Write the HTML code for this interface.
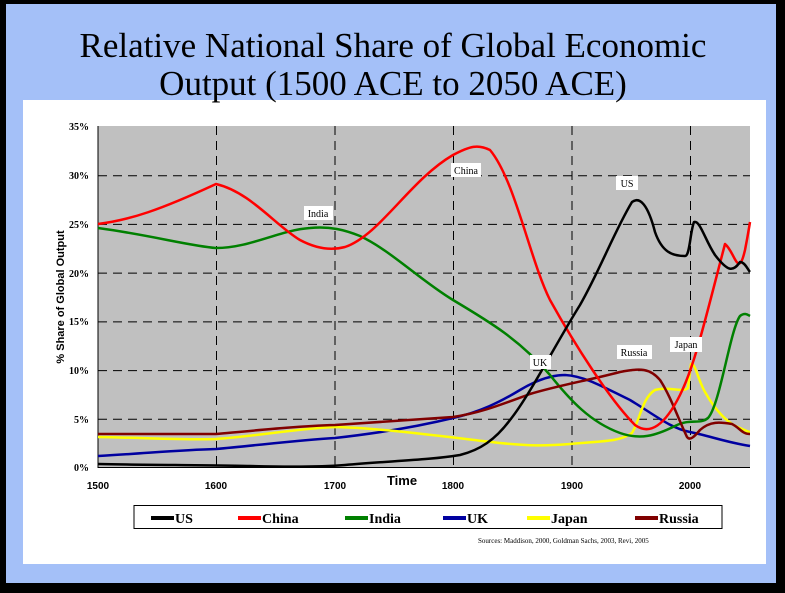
<!DOCTYPE html>
<html><head><style>
body{margin:0;width:785px;height:588px;overflow:hidden;background:#000;}
</style></head><body>
<svg width="785" height="588" xmlns="http://www.w3.org/2000/svg">
<rect width="785" height="588" fill="#000"/>
<rect x="6" y="4" width="770" height="579" fill="#a4c0f8"/>
<rect x="23" y="100" width="743" height="464" fill="#fff"/>
<text x="393" y="57" font-family="Liberation Serif" font-size="35" text-anchor="middle">Relative National Share of Global Economic</text>
<text x="393" y="95" font-family="Liberation Serif" font-size="35" text-anchor="middle">Output (1500 ACE to 2050 ACE)</text>
<rect x="98" y="126" width="652" height="341" fill="#c0c0c0"/>
<g stroke="#000" stroke-width="1" stroke-dasharray="9,6">
<line x1="98" y1="175.7" x2="750" y2="175.7"/><line x1="98" y1="224.4" x2="750" y2="224.4"/>
<line x1="98" y1="273.1" x2="750" y2="273.1"/><line x1="98" y1="321.9" x2="750" y2="321.9"/>
<line x1="98" y1="370.6" x2="750" y2="370.6"/><line x1="98" y1="419.3" x2="750" y2="419.3"/>
<line x1="216.5" y1="126" x2="216.5" y2="467"/><line x1="335" y1="126" x2="335" y2="467"/>
<line x1="453.5" y1="126" x2="453.5" y2="467"/><line x1="572" y1="126" x2="572" y2="467"/>
<line x1="690.5" y1="126" x2="690.5" y2="467"/>
</g>
<g stroke="#000" stroke-width="1"><line x1="98" y1="126" x2="98" y2="468"/><line x1="98" y1="467.5" x2="750" y2="467.5"/></g>
<g font-family="Liberation Serif" font-size="10" font-weight="bold" text-anchor="end">
<text x="89" y="130">35%</text><text x="89" y="179">30%</text><text x="89" y="228">25%</text><text x="89" y="277">20%</text><text x="89" y="325">15%</text><text x="89" y="374">10%</text><text x="89" y="423">5%</text><text x="89" y="471">0%</text>
</g>
<g font-family="Liberation Sans" font-size="10" font-weight="bold" text-anchor="middle">
<text x="98" y="489">1500</text><text x="216" y="489">1600</text><text x="335" y="489">1700</text><text x="453" y="489">1800</text><text x="572" y="489">1900</text><text x="690" y="489">2000</text>
</g>
<text x="402" y="485" font-family="Liberation Sans" font-size="13" font-weight="bold" text-anchor="middle">Time</text>
<text transform="translate(64,297) rotate(-90)" font-family="Liberation Sans" font-size="11" font-weight="bold" text-anchor="middle">% Share of Global Output</text>
<g fill="none" stroke-width="2.5" stroke-linejoin="round">
<path stroke="#0000a0" d="M98,456 C150,453 180,450 216,449 C260,445 300,440 335,438 C380,433 420,426 453,418 C480,412 500,402 520,390 C540,378 555,375 565,375 C585,376 605,388 630,400 C655,415 670,428 690,432 C710,436 725,442 750,446"/>
<path stroke="#ffff00" d="M98,437 C150,438 190,440 216,439 C260,436 300,428 335,427 C380,428 440,436 500,443 C530,446 545,446 570,444 C600,441 620,442 632,433 C640,420 642,398 655,390 C668,386 683,393 688,388 L691,364 C695,362 698,380 705,392 C715,410 728,424 740,428 C745,430 748,432 750,432"/>
<path stroke="#008000" d="M98,228 C150,235 190,246 216,248 C250,248 280,230 310,228 C330,226 345,230 360,236 C390,250 420,280 453,300 C490,322 520,340 550,375 C570,400 590,422 620,433 C640,440 655,436 675,426 C690,418 700,425 708,418 C720,405 730,330 740,316 C745,312 748,315 750,316"/>
<path stroke="#800000" d="M98,434 L216,434 C260,430 300,426 335,425 C380,422 420,419 453,417 C480,413 500,405 530,394 C560,385 590,380 620,372 C640,368 650,368 660,380 C670,395 678,418 687,437 C690,441 694,437 700,430 C710,421 720,422 732,424 C740,428 742,434 750,434"/>
<path stroke="#ff0000" d="M98,224 C130,220 160,210 216,184 C250,192 275,225 300,240 C315,248 330,251 345,247 C380,235 410,180 453,155 C470,146 478,144 490,150 C515,180 530,260 550,300 C575,345 610,400 635,425 C650,436 665,425 680,395 C695,365 705,320 725,244 C735,252 738,280 745,250 C748,235 749,228 750,222"/>
<path stroke="#000000" d="M98,464 C150,465 216,465 250,466 C290,467 320,467 345,465 C390,461 430,460 460,455 C480,450 495,440 510,420 C530,395 555,345 580,305 C600,270 615,230 632,202 C640,196 648,205 655,232 C662,252 672,256 685,256 C690,256 690,232 694,222 C700,220 705,240 715,255 C728,272 733,272 740,262 C745,262 748,270 750,272"/>
</g>
<g font-family="Liberation Serif" font-size="10" text-anchor="middle">
<rect x="451" y="163" width="30" height="14" fill="#fff"/><text x="466" y="174">China</text>
<rect x="304" y="206" width="29" height="14" fill="#fff"/><text x="318" y="217">India</text>
<rect x="616" y="176" width="22" height="14" fill="#fff"/><text x="627" y="187">US</text>
<rect x="530" y="355" width="21" height="14" fill="#fff"/><text x="540" y="366">UK</text>
<rect x="617" y="345" width="35" height="14" fill="#fff"/><text x="634" y="356">Russia</text>
<rect x="670" y="337" width="32" height="15" fill="#fff"/><text x="686" y="348">Japan</text>
</g>
<rect x="134" y="505.5" width="588" height="23" fill="#fff" stroke="#000"/>
<g stroke-width="4">
<line x1="151" y1="518" x2="174" y2="518" stroke="#000"/>
<line x1="238" y1="518" x2="261" y2="518" stroke="#f00"/>
<line x1="345" y1="518" x2="368" y2="518" stroke="#008000"/>
<line x1="443" y1="518" x2="466" y2="518" stroke="#0000a0"/>
<line x1="527" y1="518" x2="550" y2="518" stroke="#ff0"/>
<line x1="635" y1="518" x2="658" y2="518" stroke="#800000"/>
</g>
<g font-family="Liberation Serif" font-size="14" font-weight="bold">
<text x="175" y="523">US</text><text x="262" y="523">China</text><text x="369" y="523">India</text><text x="467" y="523">UK</text><text x="551" y="523">Japan</text><text x="659" y="523">Russia</text>
</g>
<text x="478" y="543" font-family="Liberation Serif" font-size="7">Sources: Maddison, 2000, Goldman Sachs, 2003, Revi, 2005</text>
</svg>
</body></html>
